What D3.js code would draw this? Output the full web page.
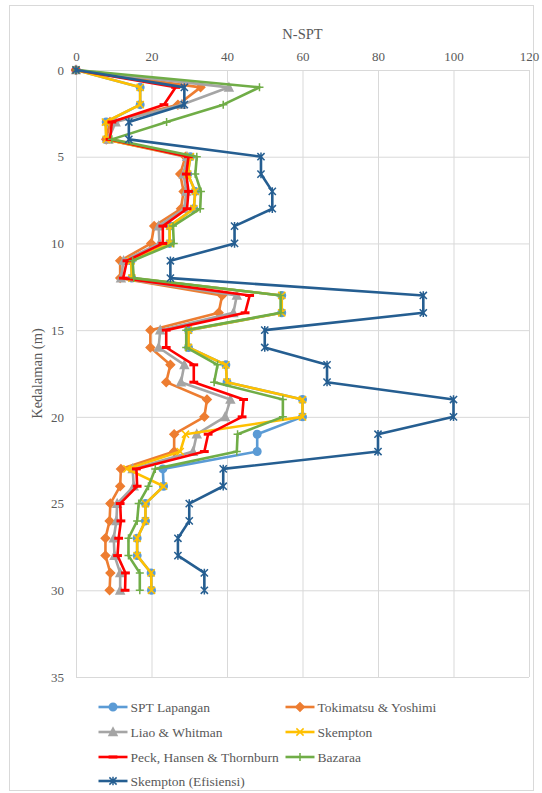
<!DOCTYPE html>
<html>
<head>
<meta charset="utf-8">
<script src="https://cdn.jsdelivr.net/npm/d3@7"></script>
<style>
  html, body { margin: 0; padding: 0; background: #fff; overflow: hidden; }
  svg { display: block; }
</style>
</head>
<body>
<div id="chart"></div>
<script>
// depth (m) of each reading, shared by every series
const depths = [0, 1, 2, 3, 4, 5, 6, 7, 8, 9, 10, 11, 12, 13, 14, 15, 16, 17, 18, 19, 20, 21, 22, 23, 24, 25, 26, 27, 28, 29, 30];

// N-SPT values, one per depth
const sptLapangan = [0, 17, 17, 8, 8, 30.3, 29.6, 31.6, 31.2, 24.8, 24.8, 14.6, 14.8, 54.5, 54.5, 29.8, 29.8, 39.7, 40, 60, 60, 48, 48, 23, 23.2, 18.4, 18.4, 16.2, 16.2, 19.9, 20];
const tokimatsu = [0, 33, 27, 9, 8, 29, 27.6, 28.5, 27.8, 20.7, 19.9, 11.7, 11.7, 38.7, 37.8, 19.7, 19.7, 25, 23.9, 34.7, 34, 26, 26, 11.9, 11.7, 9.1, 8.9, 7.8, 7.8, 9.1, 8.9];
const liaoWhitman = [0, 40.5, 28, 10.5, 8.6, 29.4, 28.5, 29.2, 28.7, 21.9, 22.1, 12.6, 11.9, 42.6, 41.7, 22.3, 21.9, 28.7, 27.8, 40.9, 39.5, 32, 31, 15, 15.3, 10.9, 10.7, 10, 10.2, 11.7, 11.7];
const skempton = [0, 17, 17, 7.8, 8, 30.3, 29.6, 31.6, 31.2, 24.8, 24.8, 14.6, 14.8, 54.5, 54.5, 29.8, 29.8, 39.7, 40, 60, 60, 29, 27.6, 13.5, 23.2, 18.4, 18.4, 16.2, 16.2, 19.9, 20];
const peckHansen = [0, 26.4, 23.3, 9.5, 9, 29.8, 29.2, 29.8, 29.4, 23, 23, 13.5, 12.5, 46, 44.8, 23.9, 23.9, 31.2, 31.2, 44.4, 44, 35, 34, 16, 16.2, 11.7, 11.9, 11.3, 11, 13.1, 13];
const bazaraa = [0, 48.6, 39, 24, 9.5, 32, 31.6, 33.1, 32.9, 25.7, 25.9, 15, 15.3, 54.2, 54.2, 29.2, 29.2, 37.5, 36.6, 54.8, 54.8, 42.8, 42.6, 21, 19.2, 16.6, 16.2, 13.9, 13.9, 16.9, 16.9];
const skemptonEff = [0, 28.7, 28.7, 14, 14, 49, 49, 52, 52, 42, 42, 25, 25, 92, 92, 50, 50, 66.5, 66.5, 100, 100, 80, 80, 39, 39, 30, 30, 27, 27, 34, 34];

const xTicks = [0, 20, 40, 60, 80, 100, 120];
const yTicks = [0, 5, 10, 15, 20, 25, 30, 35];

const seriesList = [
  { name: 'SPT Lapangan', values: sptLapangan, color: '#5B9BD5', marker: 'circle' },
  { name: 'Tokimatsu & Yoshimi', values: tokimatsu, color: '#ED7D31', marker: 'diamond' },
  { name: 'Liao & Whitman', values: liaoWhitman, color: '#A5A5A5', marker: 'triangle' },
  { name: 'Skempton', values: skempton, color: '#FFC000', marker: 'x' },
  { name: 'Peck, Hansen & Thornburn', values: peckHansen, color: '#FF0000', marker: 'dash' },
  { name: 'Bazaraa', values: bazaraa, color: '#70AD47', marker: 'plus' },
  { name: 'Skempton (Efisiensi)', values: skemptonEff, color: '#255E91', marker: 'star' },
];

const width = 542;
const height = 793;
const margin = { top: 70, right: 13, bottom: 116, left: 76 };
const innerWidth = width - margin.left - margin.right;
const innerHeight = height - margin.top - margin.bottom;
const textColor = '#595959';
const gridColor = '#D9D9D9';
const serif = '"Liberation Serif", "Times New Roman", "DejaVu Serif", serif';

const svg = d3.select('#chart').append('svg')
  .attr('width', width).attr('height', height)
  .attr('font-family', serif);

// chart area border
svg.append('rect')
  .attr('x', 9.5).attr('y', 5.5)
  .attr('width', 524).attr('height', 785)
  .attr('fill', 'none').attr('stroke', gridColor);

const g = svg.append('g').attr('transform', `translate(${margin.left},${margin.top})`);
const x = d3.scaleLinear().domain([0, 120]).range([0, innerWidth]);
const y = d3.scaleLinear().domain([0, 35]).range([0, innerHeight]);

// gridlines
g.append('g').call(d3.axisTop(x).tickValues(xTicks).tickSize(-innerHeight).tickFormat(''))
  .call((a) => a.select('.domain').remove())
  .selectAll('line').attr('stroke', gridColor);
g.append('g').call(d3.axisLeft(y).tickValues(yTicks).tickSize(-innerWidth).tickFormat(''))
  .call((a) => a.select('.domain').remove())
  .selectAll('line').attr('stroke', gridColor);

// tick labels
const xAxis = g.append('g').call(d3.axisTop(x).tickValues(xTicks).tickSize(0).tickPadding(9));
xAxis.attr('font-family', serif).attr('font-size', 13);
xAxis.select('.domain').remove();
xAxis.selectAll('text').attr('fill', textColor);
const yAxis = g.append('g').call(d3.axisLeft(y).tickValues(yTicks).tickSize(0).tickPadding(12));
yAxis.attr('font-family', serif).attr('font-size', 13);
yAxis.select('.domain').remove();
yAxis.selectAll('text').attr('fill', textColor);

// axis titles
svg.append('text')
  .attr('x', margin.left + innerWidth / 2).attr('y', 39)
  .attr('text-anchor', 'middle').attr('fill', textColor).attr('font-size', 14.5)
  .text('N-SPT');
svg.append('text')
  .attr('transform', `translate(42,${margin.top + innerHeight / 2}) rotate(-90)`)
  .attr('text-anchor', 'middle').attr('fill', textColor).attr('font-size', 14.5)
  .text('Kedalaman (m)');

function markerPath(type) {
  const s = 3.6;
  switch (type) {
    case 'circle': return d3.symbol(d3.symbolCircle, 44)();
    case 'diamond': return `M0,${-s - 0.6}L${s + 0.6},0L0,${s + 0.6}L${-s - 0.6},0Z`;
    case 'triangle': return `M0,${-s - 0.6}L${s + 0.4},${s}L${-s - 0.4},${s}Z`;
    case 'x': return `M${-s},${-s}L${s},${s}M${-s},${s}L${s},${-s}`;
    case 'dash': return `M${-s - 0.8},0L${s + 0.8},0`;
    case 'plus': return `M${-s - 0.4},0L${s + 0.4},0M0,${-s - 0.4}L0,${s + 0.4}`;
    case 'star': return `M${-s},${-s}L${s},${s}M${-s},${s}L${s},${-s}M0,${-s - 0.6}L0,${s + 0.6}`;
    default: return '';
  }
}

function drawMarker(sel, d) {
  const filled = ['circle', 'diamond', 'triangle'].includes(d.marker);
  sel.append('path')
    .attr('d', markerPath(d.marker))
    .attr('fill', filled ? d.color : 'none')
    .attr('stroke', d.color)
    .attr('stroke-width', d.marker === 'dash' ? 3 : 1.5);
}

const line = d3.line().x((d) => x(d[0])).y((d) => y(d[1]));

seriesList.forEach((series) => {
  const points = series.values.map((v, i) => [v, depths[i]]);
  const sg = g.append('g');
  sg.append('path')
    .datum(points)
    .attr('d', line)
    .attr('fill', 'none')
    .attr('stroke', series.color)
    .attr('stroke-width', 2.6)
    .attr('stroke-linejoin', 'round');
  sg.selectAll('g.pt').data(points).join('g')
    .attr('class', 'pt')
    .attr('transform', (p) => `translate(${x(p[0])},${y(p[1])})`)
    .each(function () { drawMarker(d3.select(this), series); });
});

// legend, two columns
const legendCols = [98.5, 285.5];
const legendRows = [707, 732, 757, 781];
const legend = svg.append('g');
seriesList.forEach((series, i) => {
  const item = legend.append('g')
    .attr('transform', `translate(${legendCols[i % 2]},${legendRows[Math.floor(i / 2)]})`);
  item.append('line')
    .attr('x1', 0).attr('x2', 29).attr('y1', 0).attr('y2', 0)
    .attr('stroke', series.color).attr('stroke-width', 2.6);
  const m = item.append('g').attr('transform', 'translate(14.5,0)');
  drawMarker(m, series);
  item.append('text')
    .attr('x', 32).attr('y', 0).attr('dy', '0.35em')
    .attr('fill', textColor).attr('font-size', 13.5)
    .text(series.name);
});
</script>
</body>
</html>
